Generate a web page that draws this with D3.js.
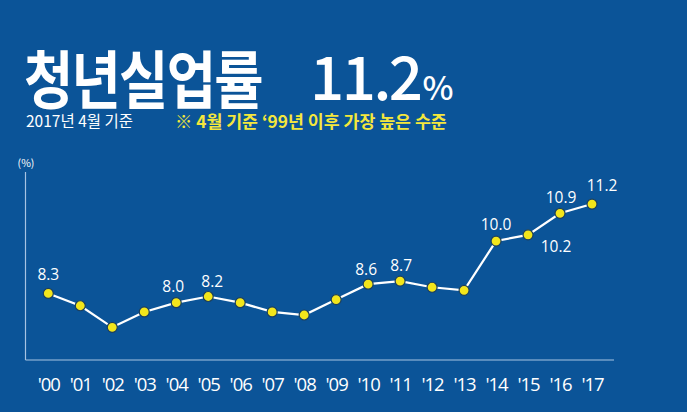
<!DOCTYPE html>
<html>
<head>
<meta charset="utf-8">
<script src="https://cdn.jsdelivr.net/npm/d3@7"></script>
<style>
	html, body {margin:0; padding:0; background:#0b5498;}
	svg {display:block;}
</style>
</head>
<body>
<div id="chart"></div>
<script>
/* data */
var years = ["'00","'01","'02","'03","'04","'05","'06","'07","'08","'09","'10","'11","'12","'13","'14","'15","'16","'17"];
var rates = [8.3, 7.9, 7.2, 7.7, 8.0, 8.2, 8.0, 7.7, 7.6, 8.1, 8.6, 8.7, 8.5, 8.4, 10.0, 10.2, 10.9, 11.2];
var labelled = ["'00","'04","'05","'10","'11","'14","'15","'16","'17"];
var title = "청년실업률";
var headline = "11.2";
var baseNote = "2017년 4월 기준";
var highNote = "※ 4월 기준 ‘99년 이후 가장 높은 수준";

var W = 687, H = 412;
var font = "'Noto Sans CJK KR', 'Noto Sans', sans-serif";

var svg = d3.select("#chart").append("svg")
	.attr("width", W)
	.attr("height", H);

svg.append("rect")
	.attr("width", W).attr("height", H)
	.attr("fill", "#0b5498");

//title block - squeezed to look like the condensed original face
svg.append("text")
	.attr("transform", "translate(24,103) scale(0.85,1)")
	.attr("font-family", font)
	.attr("font-weight", 700)
	.attr("font-size", 63)
	.attr("letter-spacing", -2)
	.attr("fill", "#fff")
	.text(title);

var big = svg.append("text")
	.attr("x", 310).attr("y", 100)
	.attr("font-family", font)
	.attr("font-weight", 500)
	.attr("fill", "#fff");
big.append("tspan").attr("font-size", 60).attr("letter-spacing", -2.5).text(headline);
big.append("tspan").attr("font-size", 33).attr("dx", 2).text("%");

svg.append("text")
	.attr("x", 26).attr("y", 127)
	.attr("font-family", font)
	.attr("font-size", 15.5)
	.attr("fill", "#fff")
	.text(baseNote);

svg.append("text")
	.attr("x", 175).attr("y", 128)
	.attr("font-family", font)
	.attr("font-weight", 700)
	.attr("font-size", 17.3)
	.attr("fill", "#f4e73c")
	.text(highNote);

//scales
var x = d3.scalePoint()
	.domain(years)
	.range([48.3, 592]);

var y = d3.scaleLinear()
	.domain([6.14, 12.24])
	.range([360, 172]);

//axes
svg.append("line")
	.attr("x1", 25.5).attr("x2", 25.5)
	.attr("y1", y(12.24)).attr("y2", y(6.14))
	.attr("stroke", "#a7c3e2").attr("stroke-width", 1.2);
svg.append("line")
	.attr("x1", 25.5).attr("x2", 614)
	.attr("y1", y(6.14)).attr("y2", y(6.14))
	.attr("stroke", "#a7c3e2").attr("stroke-width", 1.2);

svg.append("text")
	.attr("x", 26).attr("y", 167)
	.attr("text-anchor", "middle")
	.attr("font-family", font)
	.attr("font-size", 10.5)
	.attr("fill", "#fff")
	.text("(%)");

var xAxis = svg.append("g")
	.attr("transform", "translate(0," + y(6.14) + ")")
	.call(d3.axisBottom(x).tickSize(0).tickPadding(0));
xAxis.select(".domain").remove();
xAxis.selectAll("text")
	.attr("y", 31)
	.attr("dy", 0)
	.attr("font-family", "'Open Sans', sans-serif")
	.attr("font-weight", 500)
	.attr("font-size", 18.5)
	.attr("letter-spacing", -1)
	.attr("fill", "#fff");

//line
var line = d3.line()
	.x(function(d, i){ return x(years[i]); })
	.y(function(d){ return y(d); });

svg.append("path")
	.datum(rates)
	.attr("d", line)
	.attr("fill", "none")
	.attr("stroke", "#fff")
	.attr("stroke-width", 2.2);

var pts = rates.map(function(v, i){ return {year: years[i], value: v}; });

svg.selectAll("circle.dot")
	.data(pts)
	.enter()
	.append("circle")
	.attr("class", "dot")
	.attr("cx", function(d){ return x(d.year); })
	.attr("cy", function(d){ return y(d.value); })
	.attr("r", 5)
	.attr("fill", "#f3e61b")
	.attr("stroke", "#1c3f5e")
	.attr("stroke-width", 1.2);

//value labels, '15 sits below the line
var labelOffset = {"'00": [0, -13], "'04": [-3, -11], "'05": [4, -10], "'10": [-2, -9],
	"'11": [1, -10], "'14": [0, -11], "'15": [28, 17], "'16": [1, -10], "'17": [10, -13]};

svg.selectAll("text.val")
	.data(pts.filter(function(d){ return labelled.indexOf(d.year) >= 0; }))
	.enter()
	.append("text")
	.attr("class", "val")
	.attr("x", function(d){ return x(d.year) + labelOffset[d.year][0]; })
	.attr("y", function(d){ return y(d.value) + labelOffset[d.year][1]; })
	.attr("text-anchor", "middle")
	.attr("font-family", "'Open Sans', sans-serif")
	.attr("font-weight", 500)
	.attr("font-size", 15.5)
	.attr("fill", "#fff")
	.text(function(d){ return d.value.toFixed(1); });
</script>
</body>
</html>
